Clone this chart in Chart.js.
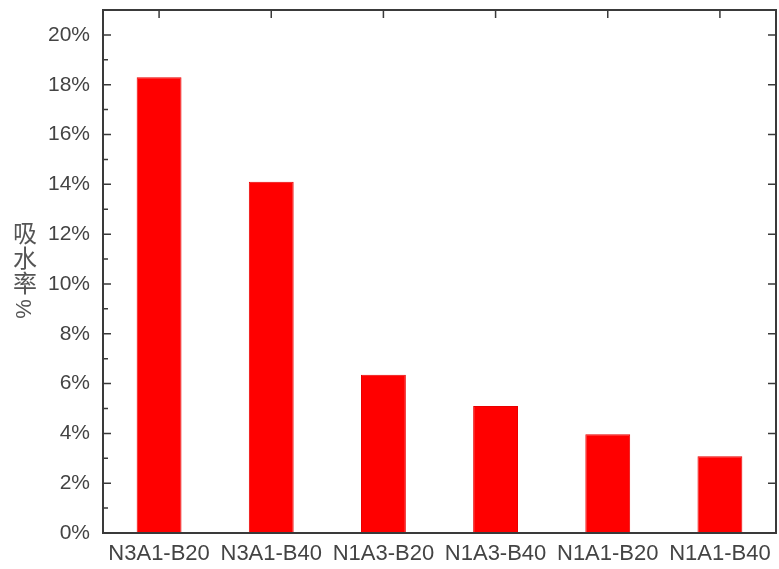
<!DOCTYPE html>
<html>
<head>
<meta charset="utf-8">
<script src="https://cdn.jsdelivr.net/npm/chart.js@4"></script>
<style>
  html, body { margin: 0; padding: 0; background: #fff; }
  #wrap { width: 779px; height: 569px; }
</style>
</head>
<body>
<div id="wrap"><canvas id="c"></canvas></div>
<script>
// data
const categories = ["N3A1-B20", "N3A1-B40", "N1A3-B20", "N1A3-B40", "N1A1-B20", "N1A1-B40"];
const absorption = [18.3, 14.1, 6.35, 5.1, 3.97, 3.08];
const yTicks = [0, 2, 4, 6, 8, 10, 12, 14, 16, 18, 20];
const yTitleChars = ["吸", "水", "率", "%"];

const axisColor = "#3a3a3a";
const textColor = "#444";

// frame, inward ticks and stacked axis title
const framePlugin = {
  id: "frame",
  afterDraw(chart) {
    const { ctx, chartArea: a } = chart;
    const x = chart.scales.x, y = chart.scales.y;
    ctx.save();
    ctx.strokeStyle = axisColor;
    ctx.lineWidth = 2;
    ctx.strokeRect(a.left, a.top, a.right - a.left, a.bottom - a.top);

    ctx.lineWidth = 1.5;
    ctx.beginPath();
    yTicks.forEach((v, i) => {
      const py = y.getPixelForValue(v);
      ctx.moveTo(a.left, py); ctx.lineTo(a.left + 8, py);
      ctx.moveTo(a.right, py); ctx.lineTo(a.right - 8, py);
      if (i < yTicks.length - 1) {
        const pm = y.getPixelForValue((v + yTicks[i + 1]) / 2);
        ctx.moveTo(a.left, pm); ctx.lineTo(a.left + 5, pm);
      }
    });
    categories.forEach((c, i) => {
      const px = x.getPixelForValue(i);
      ctx.moveTo(px, a.top); ctx.lineTo(px, a.top + 8);
    });
    ctx.stroke();

    // y title: upright CJK chars, rotated percent sign
    ctx.fillStyle = "#555";
    ctx.font = "24px 'Noto Sans CJK SC'";
    ctx.textAlign = "center";
    ctx.textBaseline = "middle";
    const tops = [233, 258, 283];
    yTitleChars.forEach((ch, i) => {
      if (i < 3) {
        ctx.fillText(ch, 25, tops[i]);
      } else {
        ctx.save();
        ctx.translate(25, 309);
        ctx.rotate(-Math.PI / 2);
        ctx.font = "22px 'Liberation Sans'";
        ctx.fillText(ch, 0, 0);
        ctx.restore();
      }
    });
    ctx.restore();
  }
};

new Chart(document.getElementById("c"), {
  type: "bar",
  data: {
    labels: categories,
    datasets: [{
      data: absorption,
      backgroundColor: "#ff0000",
      borderColor: "#e80000",
      borderWidth: 1,
      categoryPercentage: 1,
      barPercentage: 0.4
    }]
  },
  options: {
    responsive: true,
    maintainAspectRatio: false,
    animation: false,
    layout: { padding: { top: 10, right: 3, left: 0, bottom: 0 } },
    plugins: { legend: { display: false }, tooltip: { enabled: false } },
    scales: {
      x: {
        grid: { display: false, drawTicks: false },
        border: { display: false },
        ticks: {
          color: textColor,
          padding: 8,
          maxRotation: 0,
          autoSkip: false,
          font: { family: "'Liberation Sans'", size: 22 }
        },
        afterFit(s) { s.height = 36; s.paddingLeft = 0; s.paddingRight = 0; }
      },
      y: {
        min: 0,
        max: 21,
        grid: { display: false, drawTicks: false },
        border: { display: false },
        afterBuildTicks(s) { s.ticks = yTicks.map(v => ({ value: v })); },
        ticks: {
          color: textColor,
          padding: 13,
          font: { family: "'Liberation Sans'", size: 21 },
          callback: v => v + "%"
        },
        afterFit(s) { s.width = 103; s.paddingTop = 0; s.paddingBottom = 0; }
      }
    }
  },
  plugins: [framePlugin]
});
</script>
</body>
</html>
